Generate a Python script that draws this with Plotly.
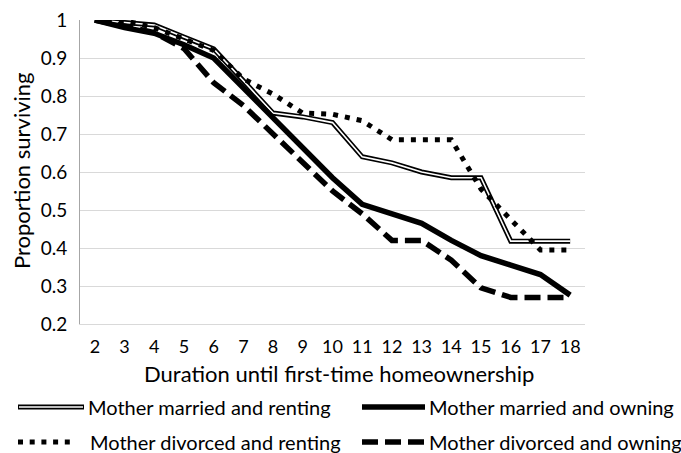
import plotly.graph_objects as go

# ---- data ----
years = list(range(2, 19))
married_renting = [1.0, 0.993, 0.987, 0.955, 0.924, 0.84, 0.755, 0.745, 0.73, 0.64, 0.624, 0.60, 0.585, 0.585, 0.418, 0.418, 0.418]
married_owning = [1.0, 0.98, 0.965, 0.935, 0.90, 0.82, 0.745, 0.665, 0.585, 0.515, 0.49, 0.465, 0.42, 0.38, 0.355, 0.33, 0.276]
divorced_renting = [1.0, 0.998, 0.98, 0.95, 0.92, 0.845, 0.805, 0.755, 0.752, 0.735, 0.685, 0.685, 0.685, 0.555, 0.475, 0.395, 0.395]
divorced_owning = [1.0, 0.985, 0.967, 0.925, 0.835, 0.775, 0.70, 0.625, 0.55, 0.49, 0.42, 0.42, 0.368, 0.295, 0.27, 0.27, 0.27]
y_ticks = [0.2, 0.3, 0.4, 0.5, 0.6, 0.7, 0.8, 0.9, 1.0]
y_tick_labels = ["0.2", "0.3", "0.4", "0.5", "0.6", "0.7", "0.8", "0.9", "1"]
legend_labels = ["Mother married and renting", "Mother married and owning",
                 "Mother divorced and renting", "Mother divorced and owning"]

FONT = "Lato, Open Sans, sans-serif"
W, H = 681, 453
ML, MR, MT, MB = 80, 96, 20, 129
PW, PH = W - ML - MR, H - MT - MB

def px(x):
    return (x - ML) / PW

def py(y):
    return 1 - (y - MT) / PH

fig = go.Figure()
fig.add_trace(go.Scatter(x=years, y=married_renting, mode="lines",
                         line=dict(color="black", width=5), showlegend=False))
fig.add_trace(go.Scatter(x=years, y=married_renting, mode="lines",
                         line=dict(color="white", width=1.6), showlegend=False))
fig.add_trace(go.Scatter(x=years, y=divorced_renting, mode="lines",
                         line=dict(color="black", width=5, dash="5px,7px"), showlegend=False))
fig.add_trace(go.Scatter(x=years, y=married_owning, mode="lines",
                         line=dict(color="black", width=5.5), showlegend=False))
fig.add_trace(go.Scatter(x=years, y=divorced_owning, mode="lines",
                         line=dict(color="black", width=5.5, dash="16px,7px"), showlegend=False))

shapes = []
annotations = []
r1, r2 = 407, 442
shapes.append(dict(type="line", xref="paper", yref="paper", x0=px(18), x1=px(84), y0=py(r1), y1=py(r1),
                   line=dict(color="black", width=5)))
shapes.append(dict(type="line", xref="paper", yref="paper", x0=px(19), x1=px(83), y0=py(r1), y1=py(r1),
                   line=dict(color="white", width=1.6)))
shapes.append(dict(type="line", xref="paper", yref="paper", x0=px(362), x1=px(425), y0=py(r1), y1=py(r1),
                   line=dict(color="black", width=5.5)))
shapes.append(dict(type="line", xref="paper", yref="paper", x0=px(18), x1=px(72), y0=py(r2), y1=py(r2),
                   line=dict(color="black", width=5, dash="5px,6.7px")))
shapes.append(dict(type="line", xref="paper", yref="paper", x0=px(362), x1=px(425), y0=py(r2), y1=py(r2),
                   line=dict(color="black", width=5.5, dash="16px,7px")))
for lab, x, y in [(legend_labels[0], 86, r1), (legend_labels[1], 427, r1),
                  (legend_labels[2], 88, r2), (legend_labels[3], 427, r2)]:
    annotations.append(dict(text=lab, xref="paper", yref="paper", x=px(x), y=py(y),
                            xanchor="left", yanchor="middle", showarrow=False,
                            font=dict(family=FONT, size=20, color="black")))
annotations.append(dict(text="Proportion surviving", xref="paper", yref="paper",
                        x=px(21), y=py(171), xanchor="center", yanchor="middle", textangle=-90,
                        showarrow=False, font=dict(family=FONT, size=22, color="black")))
annotations.append(dict(text="Duration until first-time homeownership", xref="paper", yref="paper",
                        x=px(339), y=py(373), xanchor="center", yanchor="middle",
                        showarrow=False, font=dict(family=FONT, size=22, color="black")))

fig.update_layout(
    width=W, height=H,
    margin=dict(l=ML, r=MR, t=MT, b=MB, autoexpand=False),
    plot_bgcolor="white", paper_bgcolor="white",
    showlegend=False,
    shapes=shapes, annotations=annotations,
    font=dict(family=FONT, color="black"),
    xaxis=dict(range=[1.5, 18.5], tickmode="array", tickvals=years, automargin=False,
               ticktext=[str(v) for v in years], showgrid=False, zeroline=False,
               showline=True, linecolor="#d9d9d9", linewidth=1, ticks="",
               tickfont=dict(size=18, family=FONT), ticklabelstandoff=6),
    yaxis=dict(range=[0.2, 1.0], tickmode="array", tickvals=y_ticks, ticktext=y_tick_labels,
               automargin=False,
               showgrid=True, gridcolor="#d9d9d9", gridwidth=1, zeroline=False,
               showline=True, linecolor="#a6a6a6", linewidth=1, ticks="",
               tickfont=dict(size=19, family=FONT), ticklabelstandoff=8),
)

fig.write_html("out.html", config={"displayModeBar": False},
               post_script="document.body.style.margin='0';")
